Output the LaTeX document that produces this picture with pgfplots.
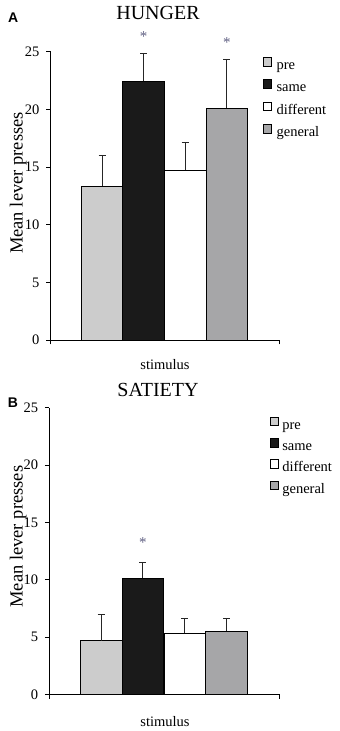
\documentclass[border=0pt]{standalone}
\usepackage{fontspec}
\setmainfont{Liberation Serif}
\newfontfamily\labfont{Liberation Sans}
\usepackage{pgfplots}
\pgfplotsset{compat=1.18}
\definecolor{cpre}{RGB}{204,204,204}
\definecolor{csame}{RGB}{26,26,26}
\definecolor{cdiff}{RGB}{255,255,255}
\definecolor{cgen}{RGB}{166,166,168}
\definecolor{cstar}{RGB}{95,95,130}

\pgfplotsset{
 panel/.style={
  scale only axis,
  axis x line=bottom, axis y line=left,
  axis line style={-, black, line width=0.8pt},
  xmin=-0.238, xmax=5.255, ymin=0, ymax=25,
  ytick={0,5,10,15,20,25},
  xtick={-0.238,5.255}, xticklabels={},
  tick align=outside, major tick length=4.5pt,
  tick style={black, line width=0.8pt},
  ybar, bar width=41.6pt, bar shift=0pt,
  clip=false,
  /pgf/number format/assume math mode=true,
  yticklabel style={font=\fontsize{14.5}{14.5}\selectfont, inner sep=0pt, xshift=-6.5pt},
  legend style={draw=none, fill=none, font=\fontsize{14.5}{14.5}\selectfont,
    inner sep=0pt, anchor=north west, row sep=7pt,
    nodes={inner sep=0pt, text height=10pt, text depth=3pt}},
  legend cell align=left,
  legend image code/.code={\draw[#1,draw=black,line width=0.6pt] (0pt,0pt) rectangle (8pt,8.5pt);},
  error bars/y dir=plus, error bars/y explicit,
  error bars/error bar style={line width=1pt, color=black!85},
  error bars/error mark options={rotate=90, mark size=3.5pt, line width=1pt, black!85},
 },
 barstyle/.style={draw=black, line width=0.7pt},
}

\begin{document}
\begin{tikzpicture}
\useasboundingbox (0pt,0pt) rectangle (340pt,731pt);

% ---------- Panel A: HUNGER ----------
\begin{axis}[panel, at={(50.5pt,391pt)}, anchor=south west, width=228.5pt, height=288.3pt,
  legend style={at={(0.929,0.9816)}, column sep=5pt}]
\addplot[barstyle, fill=cpre] coordinates {(1,13.35) +- (0,2.69)};
\addplot[barstyle, fill=csame] coordinates {(2,22.43) +- (0,2.37)};
\addplot[barstyle, fill=cdiff] coordinates {(3,14.71) +- (0,2.39)};
\addplot[barstyle, fill=cgen] coordinates {(4,20.10) +- (0,4.26)};
\legend{pre,same,different,general}
\node[font=\fontsize{15}{15}\selectfont, text=cstar, yshift=-2pt] at (axis cs:2,26.45) {*};
\node[font=\fontsize{15}{15}\selectfont, text=cstar, yshift=-2pt] at (axis cs:4,26.0) {*};
\end{axis}

% ---------- Panel B: SATIETY ----------
\begin{axis}[panel, at={(49.3pt,36.7pt)}, anchor=south west, width=229.7pt, height=286.6pt,
  legend style={at={(0.961,0.9686)}, column sep=3.5pt, row sep=6pt}]
\addplot[barstyle, fill=cpre] coordinates {(1,4.68) +- (0,2.30)};
\addplot[barstyle, fill=csame] coordinates {(2,10.12) +- (0,1.36)};
\addplot[barstyle, fill=cdiff] coordinates {(3,5.32) +- (0,1.31)};
\addplot[barstyle, fill=cgen] coordinates {(4,5.52) +- (0,1.11)};
\legend{pre,same,different,general}
\node[font=\fontsize{15}{15}\selectfont, text=cstar, yshift=-2pt] at (axis cs:2,13.45) {*};
\end{axis}

% ---------- texts ----------
\node[anchor=base, font=\fontsize{20}{20}\selectfont] at (158pt,711pt) {HUNGER};
\node[anchor=base, font=\fontsize{20}{20}\selectfont] at (158pt,334.3pt) {SATIETY};
\node[anchor=base, font=\labfont\bfseries\fontsize{14}{14}\selectfont] at (13.3pt,708pt) {A};
\node[anchor=base, font=\labfont\bfseries\fontsize{14}{14}\selectfont] at (13pt,323.7pt) {B};
\node[rotate=90, font=\fontsize{18.5}{18.5}\selectfont] at (18.3pt,548pt) {Mean lever presses};
\node[rotate=90, font=\fontsize{18.5}{18.5}\selectfont] at (18.3pt,194.3pt) {Mean lever presses};
\node[anchor=base, font=\fontsize{14.5}{14.5}\selectfont] at (165pt,361.7pt) {stimulus};
\node[anchor=base, font=\fontsize{14.5}{14.5}\selectfont] at (165pt,5pt) {stimulus};
\end{tikzpicture}
\end{document}
